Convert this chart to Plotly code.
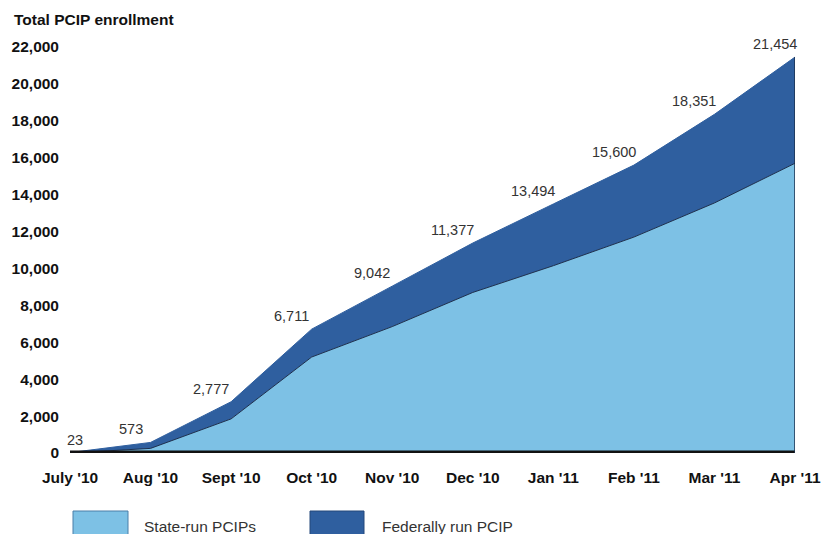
import plotly.graph_objects as go

months = ["July '10", "Aug '10", "Sept '10", "Oct '10", "Nov '10", "Dec '10",
          "Jan '11", "Feb '11", "Mar '11", "Apr '11"]
total = [23, 573, 2777, 6711, 9042, 11377, 13494, 15600, 18351, 21454]
state_run = [0, 250, 1850, 5200, 6850, 8700, 10150, 11700, 13550, 15700]
federal = [t - s for t, s in zip(total, state_run)]
y_ticks = list(range(0, 22001, 2000))

LIGHT = "#7dc1e5"
DARK = "#2f5f9f"
EDGE = "#1c2f4d"
FONT = "Liberation Sans"

xi = list(range(len(months)))

fig = go.Figure()
fig.add_trace(go.Scatter(x=xi, y=state_run, stackgroup="s", mode="lines",
                         fillcolor=LIGHT, line=dict(color=EDGE, width=1),
                         name="State-run PCIPs", hoverinfo="skip"))
fig.add_trace(go.Scatter(x=xi, y=federal, stackgroup="s", mode="lines",
                         fillcolor=DARK, line=dict(color=DARK, width=1),
                         name="Federally run PCIP", hoverinfo="skip"))

annotations = []
for i, (m, t) in enumerate(zip(months, total)):
    annotations.append(dict(x=i, y=t, xref="x", yref="y", text=f"{t:,}",
                            showarrow=False, xanchor="center", yanchor="bottom",
                            xshift=(5 if i == 0 else -20), yshift=3,
                            font=dict(family=FONT, size=14.5, color="#333333")))

annotations.append(dict(x=12, y=19, xref="paper", yref="paper", text="<b>Total PCIP enrollment</b>",
                        showarrow=False, xanchor="left", yanchor="middle",
                        font=dict(family=FONT, size=15.5, color="#111111")))
# legend entries
annotations.append(dict(x=142, y=526, xref="paper", yref="paper", text="State-run PCIPs",
                        showarrow=False, xanchor="left", yanchor="middle",
                        font=dict(family=FONT, size=15.5, color="#333333")))
annotations.append(dict(x=380, y=526, xref="paper", yref="paper", text="Federally run PCIP",
                        showarrow=False, xanchor="left", yanchor="middle",
                        font=dict(family=FONT, size=15.5, color="#333333")))

W, H = 828, 534
L, R, T, B = 70, 33, 47, 81
pw, ph = W - L - R, H - T - B

def px(x):
    return (x - L) / pw

def py(y):
    return (H - B - y) / ph

for a in annotations:
    if a["xref"] == "paper":
        a["x"] = px(a["x"])
        a["y"] = py(a["y"])

shapes = [
    dict(type="line", xref="x", yref="y", x0=0, x1=len(months) - 1, y0=0, y1=0,
         line=dict(color="#111111", width=5), layer="above"),
    dict(type="line", xref="x", yref="y", x0=len(months) - 1, x1=len(months) - 1,
         y0=0, y1=total[-1], line=dict(color=EDGE, width=1.5), layer="above"),
    dict(type="rect", xref="paper", yref="paper", x0=px(73), x1=px(128), y0=py(545), y1=py(511),
         fillcolor=LIGHT, line=dict(color="#4a7fa8", width=1)),
    dict(type="rect", xref="paper", yref="paper", x0=px(310), x1=px(364), y0=py(545), y1=py(511),
         fillcolor=DARK, line=dict(color="#24497a", width=1)),
]

fig.update_layout(
    width=W, height=H,
    margin=dict(l=L, r=R, t=T, b=B, pad=0, autoexpand=False),
    paper_bgcolor="white", plot_bgcolor="white",
    showlegend=False,
    font=dict(family=FONT, size=15.5, color="#111111"),
    annotations=annotations,
    shapes=shapes,
    xaxis=dict(range=[0, len(months) - 1], tickmode="array", tickvals=xi,
               ticktext=[f"<b>{m}</b>" for m in months],
               showgrid=False, zeroline=False, showline=False, ticks="",
               tickfont=dict(family=FONT, size=15.5, color="#111111"),
               ticklabelstandoff=13, fixedrange=True, automargin=False),
    yaxis=dict(range=[0, 22000], tickmode="array", tickvals=y_ticks,
               ticktext=[f"<b>{v:,}</b>" for v in y_ticks],
               showgrid=False, zeroline=False, showline=False, ticks="",
               tickfont=dict(family=FONT, size=15.5, color="#111111"),
               ticklabelstandoff=10, fixedrange=True, automargin=False),
)

fig.write_html("out.html", config={"displayModeBar": False})
